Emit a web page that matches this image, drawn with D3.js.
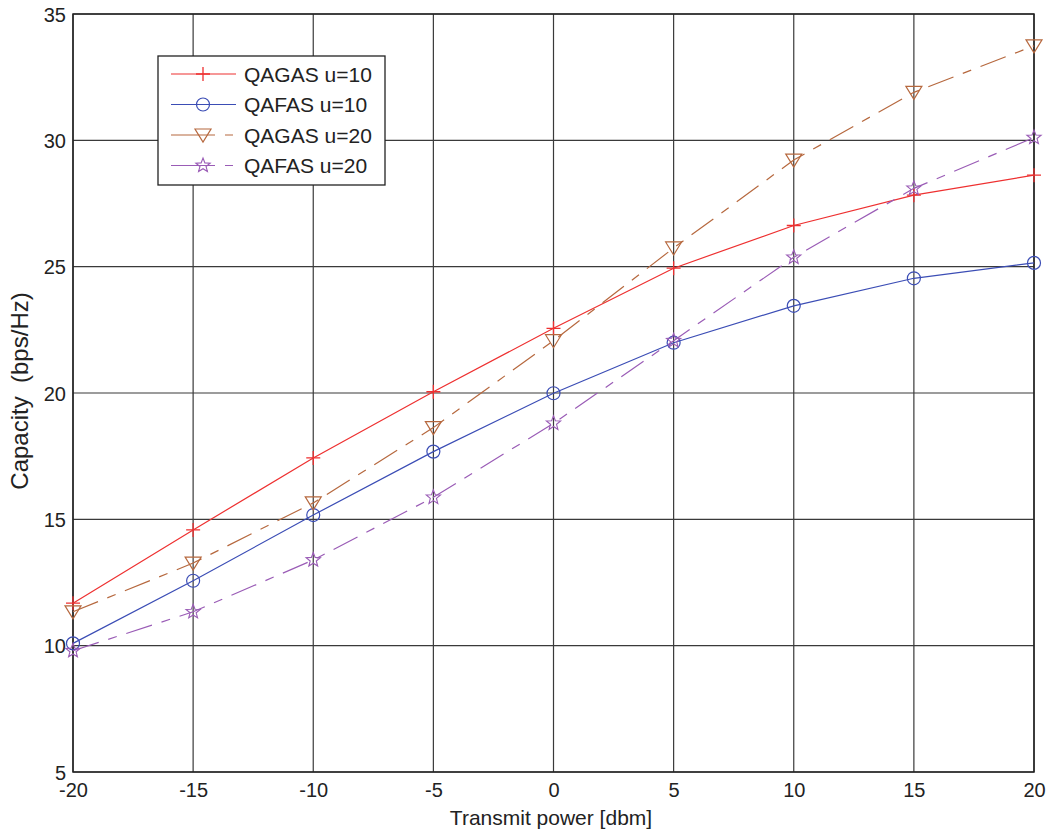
<!DOCTYPE html>
<html><head><meta charset="utf-8">
<script src="https://cdn.jsdelivr.net/npm/d3@7"></script>
<style>body{margin:0;background:#fff}svg{display:block}text{font-family:"Liberation Sans",Arial,sans-serif}</style>
</head><body><svg id="c" width="1049" height="831"></svg>
<script>
const xValues = [-20,-15,-10,-5,0,5,10,15,20];
const qagas10 = [11.68,14.58,17.43,20.05,22.56,24.94,26.63,27.83,28.62];
const qafas10 = [10.09,12.57,15.17,17.68,19.99,21.99,23.45,24.54,25.15];
const qagas20 = [11.34,13.27,15.65,18.63,22.07,25.74,29.22,31.9,33.74];
const qafas20 = [9.8,11.34,13.39,15.87,18.8,22.07,25.37,28.1,30.11];
const seriesNames = ["QAGAS u=10","QAFAS u=10","QAGAS u=20","QAFAS u=20"];
const xTicks = [-20,-15,-10,-5,0,5,10,15,20];
const yTicks = [5,10,15,20,25,30,35];

const series = [
  {name:seriesNames[0], vals:qagas10, color:"#ee3030", marker:"plus", dash:null},
  {name:seriesNames[1], vals:qafas10, color:"#3b4db5", marker:"circle", dash:null},
  {name:seriesNames[2], vals:qagas20, color:"#b6683e", marker:"tri", dash:"27,10,9,10"},
  {name:seriesNames[3], vals:qafas20, color:"#9a5cb6", marker:"star", dash:"27,10,9,10"}
];

const svg = d3.select("#c");
const L=73,R=1034,T=14,B=772;
const x = d3.scaleLinear().domain([-20,20]).range([L,R]);
const y = d3.scaleLinear().domain([5,35]).range([B,T]);
const FS = 20;
const TXT = "#222";

// grid
const g = svg.append("g");
g.selectAll(".vg").data(xTicks).enter().append("line")
  .attr("x1",d=>x(d)).attr("x2",d=>x(d)).attr("y1",T).attr("y2",B)
  .attr("stroke","#3a3a3a").attr("stroke-width",1.2);
g.selectAll(".hg").data(yTicks).enter().append("line")
  .attr("x1",L).attr("x2",R).attr("y1",d=>y(d)).attr("y2",d=>y(d))
  .attr("stroke","#3a3a3a").attr("stroke-width",1.2);

// axes
const fmt = d => String(d);
const xAxis = d3.axisBottom(x).tickValues(xTicks).tickSize(0).tickPadding(11).tickFormat(fmt);
const yAxis = d3.axisLeft(y).tickValues(yTicks).tickSize(0).tickPadding(7).tickFormat(fmt);
const gx = svg.append("g").attr("transform",`translate(0,${B})`).call(xAxis);
const gy = svg.append("g").attr("transform",`translate(${L},0)`).call(yAxis);
[gx,gy].forEach(a=>{a.select(".domain").remove();a.selectAll("text").attr("font-size",FS).attr("fill",TXT).attr("font-family","Liberation Sans, Arial, sans-serif");});
gy.selectAll("text").attr("dy","0.36em");
gx.selectAll("text").attr("dy","0.72em");

svg.append("rect").attr("x",L).attr("y",T).attr("width",R-L).attr("height",B-T)
  .attr("fill","none").attr("stroke","#222").attr("stroke-width",1.5);

// lines
const line = d3.line().x((d,i)=>x(xValues[i])).y(d=>y(d));
function drawMarker(sel, type, cx, cy, color){
  if(type==="plus"){
    sel.append("path").attr("d",`M${cx-7},${cy}H${cx+7}M${cx},${cy-7}V${cy+7}`).attr("stroke",color).attr("stroke-width",1.3).attr("fill","none");
  } else if(type==="circle"){
    sel.append("circle").attr("cx",cx).attr("cy",cy).attr("r",6.5).attr("stroke",color).attr("stroke-width",1.2).attr("fill","none");
  } else if(type==="tri"){
    sel.append("path").attr("d",`M${cx-8},${cy-6}L${cx+8},${cy-6}L${cx},${cy+7}Z`).attr("stroke",color).attr("stroke-width",1.2).attr("fill","none");
  } else if(type==="star"){
    const pts=[];
    for(let k=0;k<10;k++){const r=k%2===0?7.5:3.2;const a=-Math.PI/2+k*Math.PI/5;pts.push([cx+r*Math.cos(a),cy+r*Math.sin(a)]);}
    sel.append("path").attr("d","M"+pts.map(p=>p.join(",")).join("L")+"Z").attr("stroke",color).attr("stroke-width",1.1).attr("fill","none");
  }
}
series.forEach(s=>{
  const p = svg.append("path").datum(s.vals).attr("d",line).attr("fill","none")
    .attr("stroke",s.color).attr("stroke-width",1.2);
  if(s.dash) p.attr("stroke-dasharray",s.dash);
  const mg = svg.append("g");
  s.vals.forEach((v,i)=>drawMarker(mg,s.marker,x(xValues[i]),y(v),s.color));
});

// legend
const lg = svg.append("g");
lg.append("rect").attr("x",158).attr("y",56).attr("width",227).attr("height",129)
  .attr("fill","#fff").attr("stroke","#222").attr("stroke-width",1.3);
series.forEach((s,i)=>{
  const ly = 74 + i*30.5;
  const ln = lg.append("line").attr("x1",171).attr("x2",236).attr("y1",ly).attr("y2",ly)
    .attr("stroke",s.color).attr("stroke-width",1.2);
  if(s.dash) ln.attr("stroke-dasharray","44,10,8,10");
  drawMarker(lg,s.marker,203,ly,s.color);
  lg.append("text").attr("x",244).attr("y",ly).attr("dy","0.36em").attr("font-size",21)
    .attr("fill",TXT).text(s.name);
});

// labels
svg.append("text").attr("x",551).attr("y",825).attr("text-anchor","middle")
  .attr("font-size",21).attr("fill",TXT).text("Transmit power [dbm]");
svg.append("text").attr("transform",`translate(28,391) rotate(-90)`).attr("text-anchor","middle")
  .attr("font-size",24).attr("fill",TXT).attr("xml:space","preserve").text("Capacity  (bps/Hz)");
</script></body></html>
